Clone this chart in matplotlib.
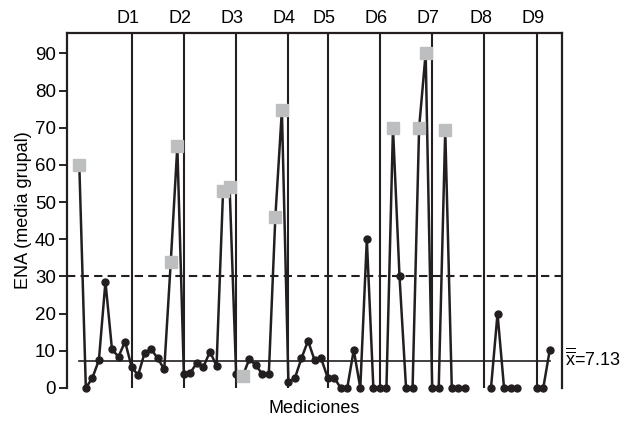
import numpy as np
import matplotlib.pyplot as plt

plt.rcParams['font.family'] = ['Liberation Sans', 'DejaVu Sans']
plt.rcParams['mathtext.fontset'] = 'custom'
plt.rcParams['mathtext.rm'] = 'Liberation Sans'

# ENA group mean per measurement (NaN = no measurement)
nan = np.nan
values = [60, 0, 2.7, 7.5, 28.6, 10.4, 8.4, 12.5, 5.7, 3.4,
          9.5, 10.4, 8.0, 5.0, 34, 65, 3.7, 4.1, 6.8, 5.7,
          9.8, 5.9, 53, 54, 3.7, 3.2, 7.7, 6.2, 3.7, 3.7,
          46, 74.7, 1.5, 2.7, 8.0, 12.7, 7.5, 8.0, 2.8, 2.8,
          0, 0, 10.2, 0, 40, 0, 0, 0, 70, 30,
          0, 0, 70, 90, 0, 0, 69.4, 0, 0, 0,
          nan, nan, nan, 0, 20, 0, 0, 0, nan, nan,
          0, 0, 10.3]
# measurements flagged as out of control (gray squares)
flagged = [0, 14, 15, 22, 23, 25, 30, 31, 48, 52, 53, 56]
sessions = ["D1", "D2", "D3", "D4", "D5", "D6", "D7", "D8", "D9"]
session_start = [8, 16, 24, 32, 38, 46, 54, 62, 70]
grand_mean = 7.13
limit = 30

x = np.arange(len(values))
y = np.array(values, dtype=float)
ink = '#231f20'

fig = plt.figure(figsize=(6.31, 4.22), dpi=100)
ax = fig.add_axes([0.106, 0.0806, 0.785, 0.8414])

for xs in session_start:
    ax.axvline(xs, color=ink, lw=1.5, zorder=1)
ax.axhline(limit, color=ink, lw=1.5, ls=(0, (4, 2.5)), zorder=1)
ax.plot([x[0], x[-1]], [grand_mean, grand_mean], color=ink, lw=1.2, zorder=1)

ax.plot(x, y, color=ink, lw=1.8, marker='o', ms=5, zorder=3, clip_on=False)
ax.plot(x[flagged], y[flagged], ls='none', marker='s', ms=9,
        color='#bcbec0', zorder=4, clip_on=False)

for lab, xs in zip(sessions, session_start):
    ax.annotate(lab, (xs - 0.6, 1), xycoords=('data', 'axes fraction'),
                xytext=(0, 4), textcoords='offset points',
                ha='center', va='bottom', fontsize=13)

ax.annotate(r'$\overline{\overline{\mathrm{x}}}$=7.13', (1, grand_mean),
            xycoords=('axes fraction', 'data'), xytext=(2, 2),
            textcoords='offset points', ha='left', va='center', fontsize=13)

ax.set_xlim(-1.9, 73.9)
ax.set_ylim(0, 95.5)
ax.set_yticks(range(0, 91, 10))
ax.set_xticks([])
ax.tick_params(axis='y', length=6, width=1.2, labelsize=13.5, pad=2)
for side in ['left', 'right', 'top']:
    ax.spines[side].set_linewidth(1.6)
    ax.spines[side].set_color(ink)
ax.spines['bottom'].set_visible(False)

ax.set_ylabel('ENA (media grupal)', fontsize=13, labelpad=2)
ax.set_xlabel('Mediciones', fontsize=13, labelpad=9)

fig.savefig('out.png', dpi=100)
